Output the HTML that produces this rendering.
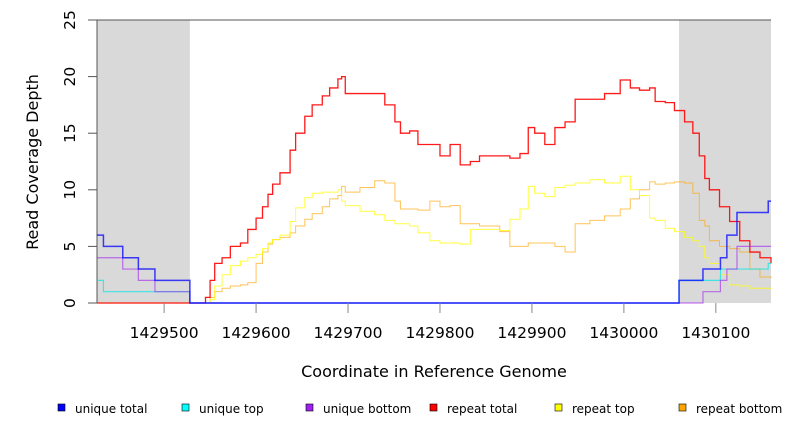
<!DOCTYPE html>
<html><head><meta charset="utf-8"><style>
html,body{margin:0;padding:0;background:#fff;}
svg{display:block;font-family:"DejaVu Sans","Liberation Sans",sans-serif;}
</style></head><body>
<svg id="chart" width="792" height="432" viewBox="0 0 792 432"></svg>
<script>
const xMin = 1429427, xMax = 1430160, yMin = 0, yMax = 25;
const xTicks = [1429500, 1429600, 1429700, 1429800, 1429900, 1430000, 1430100];
const yTicks = [0, 5, 10, 15, 20, 25];
const shadedRegions = [[1429427, 1429528], [1430060, 1430160]];
const coverPos = [1429545,1429550,1429555,1429563,1429572,1429583,1429591,1429600,1429607,1429613,1429618,1429626,1429637,1429643,1429653,1429661,1429672,1429680,1429689,1429693,1429697,1429713,1429729,1429740,1429751,1429757,1429767,1429776,1429789,1429800,1429811,1429822,1429833,1429843,1429865,1429876,1429887,1429896,1429903,1429914,1429925,1429936,1429947,1429963,1429979,1429996,1430007,1430017,1430028,1430034,1430045,1430055,1430066,1430075,1430082,1430088,1430093,1430104,1430115,1430126,1430137,1430148,1430160];
const repeatTotal = [0.5,2,3.5,4,5,5.3,6.5,7.5,8.5,9.6,10.5,11.5,13.5,15,16.5,17.5,18.3,19,19.8,20,18.5,18.5,18.5,17.5,16,15,15.2,14,14,13,14,12.2,12.5,13,13,12.8,13.2,15.5,15,14,15.5,16,18,18,18.5,19.7,19,18.8,19,17.8,17.7,17,16,15,13,11,10,8.5,7.2,5.5,4.5,4,3.5];
const repeatTop = [0,0.3,1.5,2.5,3.3,3.7,4,4.3,4.8,5.3,5.6,6,7.2,8.4,9.3,9.7,9.8,9.8,10,9,8.6,8.1,7.8,7.3,7,7,6.8,6.2,5.5,5.3,5.3,5.2,6.5,6.5,6.4,7.4,8.3,10.3,9.7,9.4,10.2,10.4,10.6,10.9,10.6,11.2,10,9.5,7.5,7.3,6.6,6.3,5.8,5.5,5,4,3.5,2.5,1.6,1.5,1.3,1.3,1.2];
const repeatBottom = [0,0.5,1,1.3,1.5,1.6,1.8,3.5,4.5,5.2,5.6,5.8,6.2,6.8,7.4,7.9,8.5,9.2,9.5,10.3,9.8,10.2,10.8,10.6,9,8.3,8.3,8.2,9,8.5,8.6,7,7,6.8,6.3,5,5,5.3,5.3,5.3,5,4.5,7,7.3,7.7,8.3,9.2,10,10.7,10.5,10.6,10.7,10.6,9.7,7.3,6.8,5.5,5,4.8,4.5,3,2.3,2.2];
const uniquePos = [1429427,1429434,1429455,1429472,1429490,1429528,1430060,1430086,1430105,1430112,1430123,1430157,1430160];
const uniqueTotal = [6,5,4,3,2,0,2,3,4,6,8,9,9];
const uniqueTop = [2,1,1,1,1,0,2,2,3,3,3,3.5,3.5];
const uniqueBottom = [4,4,3,2,1,0,0,1,2,3,5,5,5];
const legendLabels = ["unique total","unique top","unique bottom","repeat total","repeat top","repeat bottom"];
const legendColors = ["#0000ff","#00ffff","#a020f0","#ff0000","#ffff00","#ffa500"];

const L = 97, R = 771, T = 20, B = 303;
const sx = v => L + (v - xMin) / (xMax - xMin) * (R - L);
const sy = v => B - (v - yMin) / (yMax - yMin) * (B - T);
const NS = "http://www.w3.org/2000/svg";
const svg = document.getElementById("chart");
function mk(tag, attrs, parent) {
  const e = document.createElementNS(NS, tag);
  for (const k in attrs) e.setAttribute(k, attrs[k]);
  (parent || svg).appendChild(e);
  return e;
}
// shaded regions
shadedRegions.forEach(r => {
  const e = mk("rect", {x: sx(r[0]), y: T, width: sx(r[1]) - sx(r[0]), height: B - T, fill: "#d9d9d9"});
  
  
});
// frame top + left
const fr = mk("path", {d: `M${L},${B}V${T}H${R}`, stroke: "#555", fill: "none", "stroke-width": 1});


// baseline
function stepPath(xs, ys, startZeroX) {
  let d = "";
  let pts = [];
  if (startZeroX !== undefined) pts.push([startZeroX, 0]);
  for (let i = 0; i < xs.length; i++) pts.push([xs[i], ys[i]]);
  for (let i = 0; i < pts.length; i++) {
    const X = sx(pts[i][0]), Y = sy(pts[i][1]);
    if (i === 0) d += `M${X},${Y}`;
    else d += `V${Y}`;
    const nx = i + 1 < pts.length ? sx(pts[i + 1][0]) : sx(xMax);
    d += `H${nx}`;
  }
  return d;
}
const series = [
  {name: "repeat-bottom-line", xs: coverPos, ys: repeatBottom, c: "rgba(255,165,0,0.65)", w: 1, z: xMin},
  {name: "repeat-top-line", xs: coverPos, ys: repeatTop, c: "rgba(255,255,0,0.75)", w: 1, z: xMin},
  {name: "repeat-total-line", xs: coverPos, ys: repeatTotal, c: "rgba(255,0,0,0.9)", w: 1.3, z: xMin},
  {name: "unique-top-line", xs: uniquePos, ys: uniqueTop, c: "rgba(0,230,230,0.7)", w: 1.2},
  {name: "unique-bottom-line", xs: uniquePos, ys: uniqueBottom, c: "rgba(160,32,240,0.6)", w: 1.2},
  {name: "unique-total-line", xs: uniquePos, ys: uniqueTotal, c: "rgba(0,0,255,0.75)", w: 1.5}
];
series.forEach(s => {
  const p = mk("path", {d: stepPath(s.xs, s.ys, s.z), stroke: s.c, fill: "none", "stroke-width": s.w});
  
  
});
// x ticks
xTicks.forEach(t => {
  const X = sx(t);
  const l = mk("line", {x1: X, x2: X, y1: B, y2: B + 10, stroke: "#888"});
  
  
  const tx = mk("text", {x: X, y: 338, "text-anchor": "middle", "font-size": 15.5, fill: "#000"});
  tx.textContent = t;
  
  
});
// y ticks
yTicks.forEach(t => {
  const Y = sy(t);
  const l = mk("line", {x1: L - 9, x2: L, y1: Y, y2: Y, stroke: "#555"});
  
  
  const tx = mk("text", {x: 0, y: 0, "text-anchor": "middle", "font-size": 15.5, fill: "#000", transform: `translate(75,${Y}) rotate(-90)`});
  tx.textContent = t;
  
  
});
const xt = mk("text", {x: 434, y: 377, "text-anchor": "middle", "font-size": 16, fill: "#000"});
xt.textContent = "Coordinate in Reference Genome";


const yt = mk("text", {x: 0, y: 0, "text-anchor": "middle", "font-size": 16, fill: "#000", transform: "translate(38,162) rotate(-90)"});
yt.textContent = "Read Coverage Depth";


// legend
const legX = [58, 182, 306, 430, 555, 679];
legendLabels.forEach((lab, i) => {
  const g = mk("g", {});
  
  
  mk("rect", {x: legX[i], y: 404, width: 7, height: 7, fill: legendColors[i], stroke: "#000", "stroke-width": 0.6}, g);
  const t = mk("text", {x: legX[i] + 17, y: 413, "font-size": 12, fill: "#000"}, g);
  t.textContent = lab;
});
</script>
</body></html>
